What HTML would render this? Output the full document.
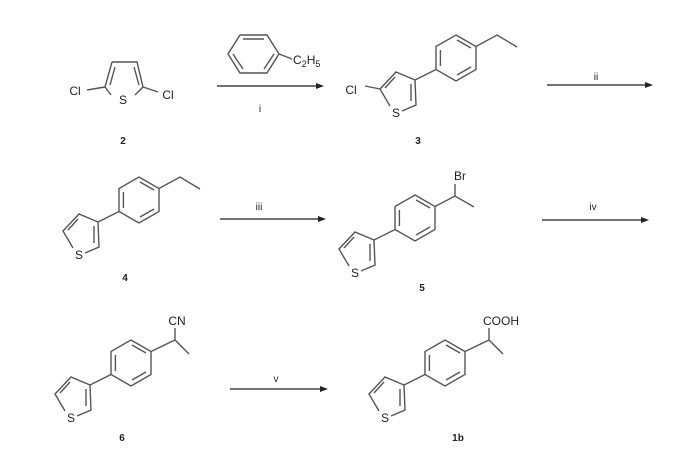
<!DOCTYPE html>
<html><head><meta charset="utf-8"><style>
html,body{margin:0;padding:0;background:#fff}
svg{display:block}
text{font-family:"Liberation Sans",Arial,sans-serif;fill:#222}
</style></head><body>
<svg width="698" height="456" viewBox="0 0 698 456" xmlns="http://www.w3.org/2000/svg">
<defs>
<g id="core" stroke="#555" stroke-width="1.4" fill="none">
  <path d="M0,0 L-19,-8 L-35,9 L-25,26 M-13,31 L1,25 L0,0"/>
  <path d="M-20,-3 L-30,8 M-4,4 L-4,21"/>
  <path d="M0,0 L21,-10.5"/>
  <path d="M41,-45 L61,-33.5 L61,-10.5 L41,1 L21,-10.5 L21,-33.5 Z"/>
  <path d="M42,-40 L56,-32 M56,-13 L42,-5 M25.4,-14 L25.4,-30"/>
</g>
</defs>
<g>
<g stroke="#555" stroke-width="1.4" fill="none">
  <path d="M112,62 L137,62 L143,87 L135,95 M111,95 L105,87 L112,62"/>
  <path d="M115,67 L110,85 M134,67 L139,85"/>
  <path d="M105,87 L87,90 M143,87 L158,92"/>
</g>
<text x="123" y="104" font-size="12" text-anchor="middle">S</text>
<text x="75" y="95" font-size="12" text-anchor="middle">Cl</text>
<text x="168" y="99" font-size="12" text-anchor="middle">Cl</text>
<text x="123" y="144" font-size="10" font-weight="bold" text-anchor="middle">2</text>

<g stroke="#555" stroke-width="1.4" fill="none">
  <path d="M228,54 L240,35 L267,35 L279,54 L267,73 L240,73 Z"/>
  <path d="M243,39 L264,39 M274,54 L264,69 M243,69 L233,54"/>
  <path d="M279,54 L292,59"/>
</g>
<text x="293" y="64" font-size="12">C<tspan font-size="9" dy="3">2</tspan><tspan dy="-3">H</tspan><tspan font-size="9" dy="3">5</tspan></text>

<g stroke="#444" stroke-width="1.4">
  <line x1="217" y1="86" x2="318" y2="86"/>
  <line x1="547" y1="85" x2="647" y2="85"/>
  <line x1="220" y1="219" x2="320" y2="219"/>
  <line x1="542" y1="220" x2="643" y2="220"/>
  <line x1="230" y1="389" x2="322" y2="389"/>
</g>
<g fill="#222">
  <path d="M324,86 L316,83 L316,89 Z"/>
  <path d="M653,85 L645,82 L645,88 Z"/>
  <path d="M326,219 L318,216 L318,222 Z"/>
  <path d="M649,220 L641,217 L641,223 Z"/>
  <path d="M328,389 L320,386 L320,392 Z"/>
</g>
<text x="260" y="112" font-size="10" text-anchor="middle">i</text>
<text x="596" y="80" font-size="10" text-anchor="middle">ii</text>
<text x="259" y="210" font-size="10" text-anchor="middle">iii</text>
<text x="593" y="210" font-size="10" text-anchor="middle">iv</text>
<text x="276" y="382" font-size="10" text-anchor="middle">v</text>

<g transform="translate(415,80)">
  <use href="#core"/>
  <g stroke="#555" stroke-width="1.4" fill="none">
    <path d="M61,-33.5 L82,-45 L102,-33"/>
    <path d="M-35,9 L-50,6"/>
  </g>
  <text x="-19" y="37" font-size="12" text-anchor="middle">S</text>
  <text x="-64" y="14" font-size="12" text-anchor="middle">Cl</text>
</g>
<text x="418" y="144" font-size="10" font-weight="bold" text-anchor="middle">3</text>

<g transform="translate(98,222)">
  <use href="#core"/>
  <path d="M61,-33.5 L82,-45 L102,-33" stroke="#555" stroke-width="1.4" fill="none"/>
  <text x="-19" y="37" font-size="12" text-anchor="middle">S</text>
</g>
<text x="125" y="281" font-size="10" font-weight="bold" text-anchor="middle">4</text>

<g transform="translate(374,240)">
  <use href="#core"/>
  <path d="M61,-33.5 L81,-44 L100,-33 M81,-44 L81,-56" stroke="#555" stroke-width="1.4" fill="none"/>
  <text x="-19" y="37" font-size="12" text-anchor="middle">S</text>
  <text x="86" y="-60" font-size="12" text-anchor="middle">Br</text>
</g>
<text x="422" y="291" font-size="10" font-weight="bold" text-anchor="middle">5</text>

<g transform="translate(90,385)">
  <use href="#core"/>
  <path d="M61,-33.5 L85,-45 L99,-31 M85,-45 L85,-57" stroke="#555" stroke-width="1.4" fill="none"/>
  <text x="-19" y="37" font-size="12" text-anchor="middle">S</text>
  <text x="87" y="-60" font-size="12" text-anchor="middle">CN</text>
</g>
<text x="122" y="441" font-size="10" font-weight="bold" text-anchor="middle">6</text>

<g transform="translate(404,385)">
  <use href="#core"/>
  <path d="M61,-33.5 L85,-45 L99,-31 M85,-45 L85,-57" stroke="#555" stroke-width="1.4" fill="none"/>
  <text x="-19" y="37" font-size="12" text-anchor="middle">S</text>
  <text x="79" y="-60" font-size="12">COOH</text>
</g>
<text x="458" y="441" font-size="10" font-weight="bold" text-anchor="middle">1b</text>
</g>
</svg>
</body></html>
